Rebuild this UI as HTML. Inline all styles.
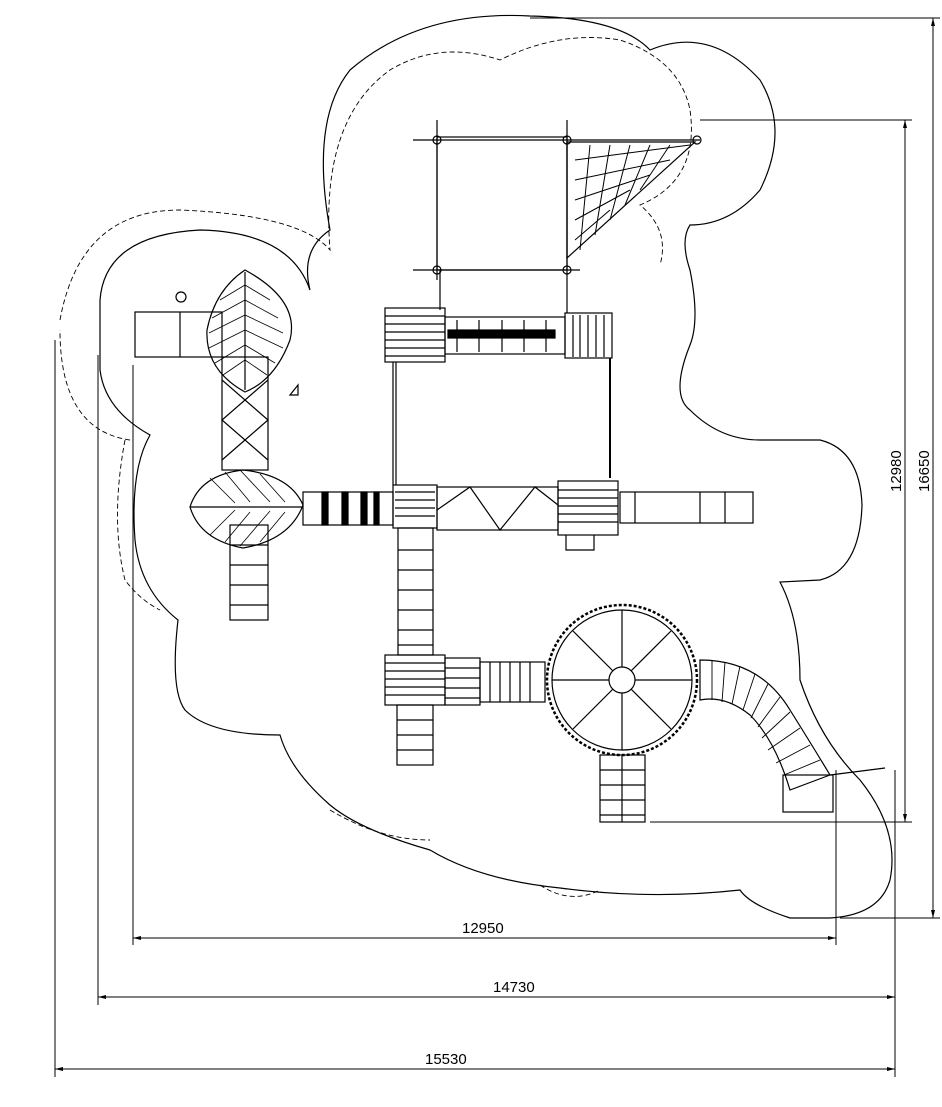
<!DOCTYPE html>
<html><head><meta charset="utf-8"><style>
html,body{margin:0;padding:0;background:#fff}
svg{display:block}
text{font-family:"Liberation Sans",sans-serif;font-size:15px;fill:#000}
</style></head><body>
<svg width="942" height="1107" viewBox="0 0 942 1107" xmlns="http://www.w3.org/2000/svg" fill="none" stroke="#000" stroke-width="1.2">
<!-- solid outline -->
<path d="M100,300 Q105,235 200,230 Q290,232 310,290 Q300,250 330,230 Q310,120 350,70 Q420,10 530,16 Q620,18 650,50 Q710,25 760,80 Q790,130 760,190 Q730,225 690,225 Q680,240 690,270 Q700,320 690,345 Q670,395 690,410 Q720,440 760,440 L820,440 Q860,450 862,505 Q860,570 820,580 L780,582 Q800,620 800,680 Q820,740 860,780 Q900,830 890,880 Q880,915 830,918 L790,918 Q750,905 740,890 Q650,900 560,888 Q480,880 430,850 Q360,830 330,805 Q290,770 280,735 Q210,735 185,710 Q170,690 178,620 Q140,590 135,540 Q130,470 150,435 Q105,410 100,370 Z"/>
<!-- dashed inner -->
<path stroke-dasharray="5,3" stroke-width="0.9" d="M60,320 Q80,210 180,210 Q300,215 330,250 Q320,120 390,70 Q440,40 500,60 Q560,30 620,40 Q680,60 690,110 Q700,180 640,205 Q670,230 660,265 M130,440 Q60,430 60,330 M125,440 Q110,520 125,580 Q140,600 160,610 M330,810 Q380,840 430,840 M540,885 Q570,905 600,890"/>
<!-- dimension lines -->
<g stroke-width="1">
<line x1="133" y1="938" x2="836" y2="938"/><line x1="98" y1="997" x2="895" y2="997"/><line x1="55" y1="1069" x2="895" y2="1069"/>
<line x1="905" y1="120" x2="905" y2="822"/><line x1="933" y1="18" x2="933" y2="918"/>
<line x1="133" y1="365" x2="133" y2="945"/><line x1="98" y1="355" x2="98" y2="1005"/><line x1="55" y1="340" x2="55" y2="1077"/>
<line x1="836" y1="770" x2="836" y2="945"/><line x1="895" y1="770" x2="895" y2="1077"/>
<line x1="700" y1="120" x2="912" y2="120"/><line x1="650" y1="822" x2="912" y2="822"/>
<line x1="530" y1="18" x2="940" y2="18"/><line x1="840" y1="918" x2="940" y2="918"/>
</g>
<g fill="#000" stroke="none">
<path d="M133,938 l8,-2 v4z M836,938 l-8,-2 v4z M98,997 l8,-2 v4z M895,997 l-8,-2 v4z M55,1069 l8,-2 v4z M895,1069 l-8,-2 v4z M905,120 l-2,8 h4z M905,822 l-2,-8 h4z M933,18 l-2,8 h4z M933,918 l-2,-8 h4z"/>
</g>
<text x="462" y="933" stroke="none">12950</text>
<text x="493" y="992" stroke="none">14730</text>
<text x="425" y="1064" stroke="none">15530</text>
<text transform="translate(901,492) rotate(-90)" stroke="none">12980</text>
<text transform="translate(929,492) rotate(-90)" stroke="none">16650</text>

<!-- top frame -->
<g>
<rect x="437" y="137" width="130" height="133"/>
<line x1="413" y1="140" x2="700" y2="140"/><line x1="413" y1="270" x2="580" y2="270"/>
<line x1="437" y1="120" x2="437" y2="280"/><line x1="567" y1="120" x2="567" y2="313"/>
<line x1="440" y1="270" x2="440" y2="310"/>
<circle cx="437" cy="140" r="4"/><circle cx="567" cy="140" r="4"/><circle cx="437" cy="270" r="4"/><circle cx="567" cy="270" r="4"/><circle cx="697" cy="140" r="4"/>
<path d="M567,142 L695,142 L567,258 Z"/>
<path stroke-width="1" d="M575,160 L690,145 M575,180 L670,160 M575,200 L650,175 M575,220 L630,190 M575,240 L610,210 M590,145 L580,250 M610,145 L595,235 M630,145 L610,220 M650,145 L625,205 M670,145 L640,190"/>
</g>
<!-- platform A -->
<rect x="385" y="308" width="60" height="54"/>
<path d="M385,316h60M385,324h60M385,332h60M385,340h60M385,348h60M385,356h60"/>
<rect x="445" y="317" width="120" height="37"/>
<rect x="448" y="330" width="107" height="8" fill="#000"/>
<path d="M457,320v32M479,320v32M502,320v32M524,320v32M546,320v32"/>
<rect x="565" y="313" width="47" height="45"/>
<path d="M573,315v42M580,315v42M588,315v42M596,315v42M604,315v42"/>
<line x1="393" y1="362" x2="393" y2="485"/><line x1="396" y1="362" x2="396" y2="485"/>
<line x1="610" y1="358" x2="610" y2="478" stroke-width="2"/>
<!-- platform C + truss -->
<rect x="393" y="485" width="44" height="43"/>
<path d="M395,492h40M395,500h40M395,508h40M395,516h40"/>
<rect x="437" y="487" width="121" height="43"/>
<path d="M437,510 L470,487 L500,530 L535,487 L558,505"/>
<rect x="558" y="481" width="60" height="54"/>
<path d="M558,490h60M558,498h60M558,506h60M558,514h60M558,522h60"/>
<path d="M566,535v15h28v-15"/>
<rect x="620" y="492" width="133" height="31"/>
<path d="M635,492v31M700,492v31M725,492v31"/>
<!-- left area -->
<rect x="135" y="312" width="87" height="45"/><line x1="180" y1="312" x2="180" y2="357"/>
<circle cx="181" cy="297" r="5"/>
<path d="M245,270 Q300,300 290,340 Q275,380 245,392 Q205,370 207,330 Q215,290 245,270 Z"/>
<line x1="245" y1="272" x2="245" y2="390"/>
<path stroke-width="0.8" d="M245,285l-25,15M245,300l-33,18M245,315l-36,18M245,330l-36,18M245,345l-30,18M245,360l-22,15M245,285l25,15M245,300l33,18M245,315l38,18M245,330l38,18M245,345l30,18M245,360l22,15"/>
<rect x="222" y="357" width="46" height="113"/>
<path d="M222,380 L268,420 L222,460 M268,380 L222,420 L268,460"/>
<path d="M290,395 l8,-10 l0,10 z"/>
<path d="M243,470 Q290,475 303,505 Q290,540 243,548 Q200,540 190,507 Q200,475 243,470 Z"/>
<line x1="190" y1="507" x2="303" y2="507"/>
<path stroke-width="0.8" d="M210,478l25,25M225,472l25,30M240,470l30,32M260,474l25,28M210,535l25,-25M225,542l25,-30M240,546l30,-35M260,542l25,-30"/>
<rect x="303" y="492" width="90" height="33"/>
<rect x="322" y="492" width="6" height="33" fill="#000"/><rect x="342" y="492" width="6" height="33" fill="#000"/><rect x="361" y="492" width="6" height="33" fill="#000"/><rect x="374" y="492" width="5" height="33" fill="#000"/>
<rect x="230" y="525" width="38" height="95"/>
<path d="M230,545h38M230,565h38M230,585h38M230,605h38"/>
<!-- stairs down -->
<rect x="398" y="528" width="35" height="127"/>
<path d="M398,550h35M398,570h35M398,590h35M398,610h35M398,630h35M398,645h35"/>
<rect x="385" y="655" width="60" height="50"/>
<path d="M385,663h60M385,671h60M385,679h60M385,687h60M385,695h60"/>
<rect x="445" y="658" width="35" height="47"/>
<path d="M445,668h35M445,678h35M445,688h35M445,698h35"/>
<rect x="480" y="662" width="65" height="40"/>
<path d="M490,662v40M500,662v40M510,662v40M520,662v40M530,662v40"/>
<rect x="397" y="705" width="36" height="60"/>
<path d="M397,720h36M397,735h36M397,750h36"/>
<!-- gear -->
<circle cx="622" cy="680" r="75" stroke-dasharray="3,2" stroke-width="2.5"/>
<circle cx="622" cy="680" r="70"/>
<circle cx="622" cy="680" r="13"/>
<path d="M622,667V610M622,693V750M609,680H552M635,680H692M613,671L573,631M631,671L671,631M613,689L573,729M631,689L671,729"/>
<rect x="600" y="755" width="45" height="67"/>
<path d="M622,755v67M600,770h45M600,785h45M600,800h45M600,815h45"/>
<!-- tube slide -->
<path d="M700,660 Q760,660 790,710 Q815,750 830,775 L790,790 Q775,740 750,715 Q725,695 700,700 Z"/>
<path stroke-width="0.9" d="M712,660v40M725,662l-3,40M740,666l-8,38M755,674l-12,36M768,684l-17,34M780,697l-22,30M790,712l-28,26M800,728l-32,22M810,745l-34,18M820,760l-36,15"/>
<rect x="783" y="775" width="50" height="37"/>
<line x1="830" y1="775" x2="885" y2="768"/>
</svg>
</body></html>
